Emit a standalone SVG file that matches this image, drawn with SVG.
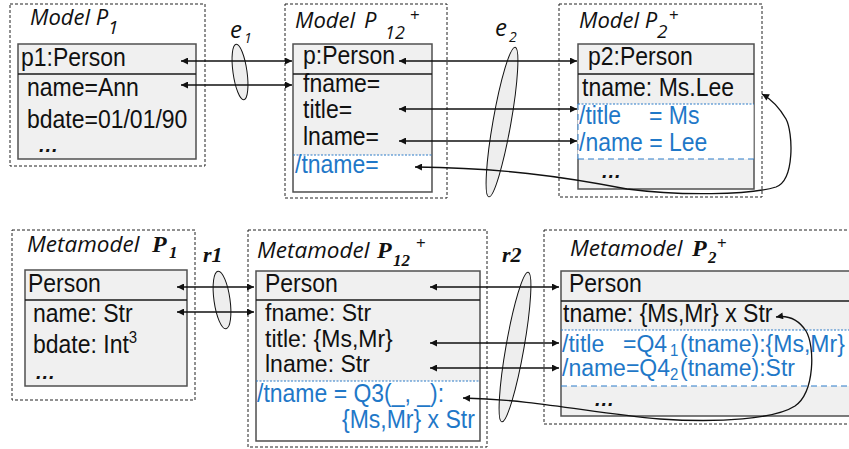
<svg xmlns="http://www.w3.org/2000/svg" width="849" height="449" viewBox="0 0 849 449">
  <style>
    .frame { fill: #ffffff; stroke: #222; stroke-width: 1; stroke-dasharray: 3 2; }
    .cls { fill: #f0f0f0; stroke: #505050; stroke-width: 1.5; }
    .sep { stroke: #1a1a1a; stroke-width: 1.5; }
    .white { fill: #ffffff; stroke: none; }
    .bdot { stroke: #2a7bc8; stroke-width: 1; stroke-dasharray: 2 1.5; fill: none; }
    .bdash { stroke: #2a7bc8; stroke-width: 1; stroke-dasharray: 6 4; fill: none; }
    .t { font-family: "Liberation Sans", Arial, sans-serif; font-size: 23px; fill: #111; }
    .b { fill: #1f78c8; }
    .dots { font-family: "Liberation Sans", Arial, sans-serif; font-size: 20px; font-weight: bold; font-style: italic; letter-spacing: 1px; fill: #111; }
    .ttl { font-family: "Open Sans", "DejaVu Sans", sans-serif; font-style: italic; fill: #111; }
    .scr { font-family: "Liberation Serif", "Times New Roman", serif; font-style: italic; font-weight: bold; fill: #111; }
    .up { font-family: "Open Sans", "DejaVu Sans", sans-serif; fill: #111; }
    .oval { fill: #eeeeee; stroke: #111; stroke-width: 1; }
    .link { fill: none; stroke: #111; stroke-width: 1.3; marker-start: url(#ah); marker-end: url(#ah); }
  </style>
  <defs>
    <marker id="ah" viewBox="0 0 10 10" refX="10" refY="5" markerWidth="9" markerHeight="7" markerUnits="userSpaceOnUse" orient="auto-start-reverse">
      <path d="M0,0 L10,5 L0,10 z" fill="#111"/>
    </marker>
  </defs>

  <!-- ===== Model level ===== -->
  <g id="model-p1">
    <rect class="frame" x="10" y="4" width="195" height="162"/>
    <text class="ttl" x="30" y="25" font-size="22">Model P</text>
    <text class="ttl" x="108" y="34" font-size="19">1</text>
    <rect class="cls" x="18" y="44" width="178" height="115"/>
    <line class="sep" x1="18" y1="74" x2="196" y2="74"/>
    <text class="t" transform="translate(21,66) scale(1,1.1)">p1:Person</text>
    <text class="t" transform="translate(27,96) scale(1,1.1)">name=Ann</text>
    <text class="t" transform="translate(27,128) scale(1,1.1)">bdate=01/01/90</text>
    <text class="dots" x="39" y="152">...</text>
  </g>

  <g id="model-p12">
    <rect class="frame" x="285" y="4" width="162" height="194"/>
    <text class="ttl" x="295" y="28" font-size="22">Model</text>
    <text class="ttl" x="364" y="28" font-size="22">P</text>
    <text class="ttl" x="385" y="39" font-size="18">12</text>
    <text class="up" x="410" y="21" font-size="17">+</text>
    <rect class="cls" x="293" y="44" width="139" height="148"/>
    <rect class="white" x="294" y="155" width="137" height="36"/>
    <line class="sep" x1="293" y1="74" x2="432" y2="74"/>
    <line class="bdot" x1="293" y1="155" x2="432" y2="155"/>
    <text class="t" transform="translate(303,64) scale(1,1.1)">p:Person</text>
    <text class="t" transform="translate(303,92) scale(1,1.1)">fname=</text>
    <text class="t" transform="translate(303,118) scale(1,1.1)">title=</text>
    <text class="t" transform="translate(303,145) scale(1,1.1)">lname=</text>
    <text class="t b" transform="translate(295,173) scale(1,1.1)">/tname=</text>
  </g>

  <g id="model-p2">
    <rect class="frame" x="559" y="4" width="203" height="193"/>
    <text class="ttl" x="579" y="28" font-size="22">Model P</text>
    <text class="ttl" x="657" y="38" font-size="19">2</text>
    <text class="up" x="669" y="21" font-size="17">+</text>
    <rect class="cls" x="578" y="44" width="176" height="145"/>
    <rect class="white" x="577.5" y="104" width="176" height="55"/>
    <line class="sep" x1="578" y1="74" x2="754" y2="74"/>
    <line class="bdot" x1="578" y1="104" x2="754" y2="104"/>
    <line class="bdash" x1="578" y1="159" x2="754" y2="159"/>
    <line class="bdash" x1="578" y1="104" x2="578" y2="159"/>
    <text class="t" transform="translate(588,65) scale(1,1.1)">p2:Person</text>
    <text class="t" transform="translate(582,96) scale(1,1.1)">tname: Ms.Lee</text>
    <text class="t b" transform="translate(579,124) scale(1,1.1)">/title<tspan x="70">= Ms</tspan></text>
    <text class="t b" transform="translate(579,151) scale(1,1.1)">/name = Lee</text>
    <text class="dots" x="602" y="178">...</text>
  </g>

  <!-- ===== Metamodel level ===== -->
  <g id="meta-p1">
    <rect class="frame" x="12" y="230" width="183" height="170"/>
    <text class="ttl" x="27" y="252" font-size="22.5">Metamodel</text>
    <text class="scr" x="152" y="252" font-size="24">P</text>
    <text class="scr" x="169" y="258" font-size="17">1</text>
    <rect class="cls" x="25" y="270" width="162" height="116"/>
    <line class="sep" x1="25" y1="300" x2="187" y2="300"/>
    <text class="t" transform="translate(28,292) scale(1,1.1)">Person</text>
    <text class="t" transform="translate(33,322) scale(1,1.1)">name: Str</text>
    <text class="t" transform="translate(33,353) scale(1,1.1)">bdate: Int<tspan font-size="15" dy="-9">3</tspan></text>
    <text class="dots" x="36" y="379">...</text>
  </g>

  <g id="meta-p12">
    <rect class="frame" x="248" y="230" width="239" height="217"/>
    <text class="ttl" x="257" y="258" font-size="22.5">Metamodel</text>
    <text class="scr" x="377" y="258" font-size="24">P</text>
    <text class="scr" x="393" y="266" font-size="17">12</text>
    <text class="up" x="416" y="249" font-size="17">+</text>
    <rect class="cls" x="256" y="271" width="224" height="170"/>
    <rect class="white" x="257" y="381" width="222" height="59"/>
    <line class="sep" x1="256" y1="300" x2="480" y2="300"/>
    <line class="bdot" x1="256" y1="381" x2="480" y2="381"/>
    <text class="t" transform="translate(265,292) scale(1,1.1)">Person</text>
    <text class="t" transform="translate(265,321) scale(1,1.05)">fname: Str</text>
    <text class="t" transform="translate(265,347) scale(1,1.05)">title: {Ms,Mr}</text>
    <text class="t" transform="translate(265,372) scale(1,1.05)">lname: Str</text>
    <text class="t b" transform="translate(257,402) scale(1,1.1)">/tname = Q3(_, _):</text>
    <text class="t b" transform="translate(342,428) scale(1,1.1)">{Ms,Mr} x Str</text>
  </g>

  <g id="meta-p2">
    <rect class="frame" x="544" y="230" width="312" height="194"/>
    <text class="ttl" x="570" y="256" font-size="22.5">Metamodel</text>
    <text class="scr" x="692" y="256" font-size="24">P</text>
    <text class="scr" x="708" y="263" font-size="17">2</text>
    <text class="up" x="717" y="249" font-size="17">+</text>
    <rect class="cls" x="561" y="271" width="296" height="145"/>
    <rect class="white" x="562" y="330" width="295" height="56"/>
    <line class="sep" x1="561" y1="301" x2="857" y2="301"/>
    <line class="bdot" x1="561" y1="330" x2="857" y2="330"/>
    <line class="bdash" x1="561" y1="386" x2="857" y2="386"/>
    <text class="t" transform="translate(569,292) scale(1,1.1)">Person</text>
    <text class="t" transform="translate(563,322) scale(1,1.1)">tname: {Ms,Mr} x Str</text>
    <text class="t b" transform="translate(562,352) scale(1,1.05)">/title<tspan x="61">=Q4</tspan><tspan x="108" dy="4" font-size="15">1</tspan><tspan x="118" dy="-4">(tname):{Ms,Mr}</tspan></text>
    <text class="t b" transform="translate(562,376) scale(1,1.05)">/name=Q4<tspan x="108" dy="4" font-size="15">2</tspan><tspan x="118" dy="-4">(tname):Str</tspan></text>
    <text class="dots" x="595" y="406">...</text>
  </g>

  <!-- ===== Correspondence spans ===== -->
  <g id="span-e1">
    <ellipse class="oval" cx="240" cy="72" rx="7" ry="28" transform="rotate(-8 240 72)"/>
    <text class="ttl" x="230" y="38" font-size="24">e</text>
    <text class="ttl" x="244" y="43" font-size="14">1</text>
  </g>
  <g id="span-e2">
    <ellipse class="oval" cx="502" cy="122" rx="9" ry="76" transform="rotate(10 502 122)"/>
    <text class="ttl" x="495" y="36" font-size="24">e</text>
    <text class="ttl" x="509" y="42" font-size="14">2</text>
  </g>
  <g id="span-r1">
    <ellipse class="oval" cx="222" cy="300" rx="8" ry="29" transform="rotate(-8 222 300)"/>
    <text class="scr" x="203" y="262" font-size="22">r1</text>
  </g>
  <g id="span-r2">
    <ellipse class="oval" cx="515" cy="347" rx="9" ry="76" transform="rotate(10 515 347)"/>
    <text class="scr" x="502" y="262" font-size="22">r2</text>
  </g>

  <!-- ===== Connectors ===== -->
  <g id="connectors">
    <line class="link" x1="181" y1="61" x2="292" y2="61"/>
    <line class="link" x1="181" y1="85" x2="292" y2="85"/>
    <line class="link" x1="399" y1="61" x2="577" y2="61"/>
    <line class="link" x1="399" y1="109" x2="577" y2="109"/>
    <line class="link" x1="399" y1="141" x2="577" y2="141"/>
    <path class="link" d="M415,167 C500,168 560,176 627,189 C680,196 750,195 776,187 C795,180 793,132 786,119 C779,107 771,99 762,94"/>

    <line class="link" x1="177" y1="287" x2="254" y2="287"/>
    <line class="link" x1="177" y1="312" x2="254" y2="312"/>
    <line class="link" x1="430" y1="287" x2="559" y2="287"/>
    <line class="link" x1="430" y1="343" x2="559" y2="343"/>
    <line class="link" x1="430" y1="368" x2="559" y2="368"/>
    <path class="link" d="M463,398 C540,400 590,413 660,419 C720,423 775,419 795,406 C815,392 815,346 806,331 C798,319 788,315 776,317"/>
  </g>
</svg>
